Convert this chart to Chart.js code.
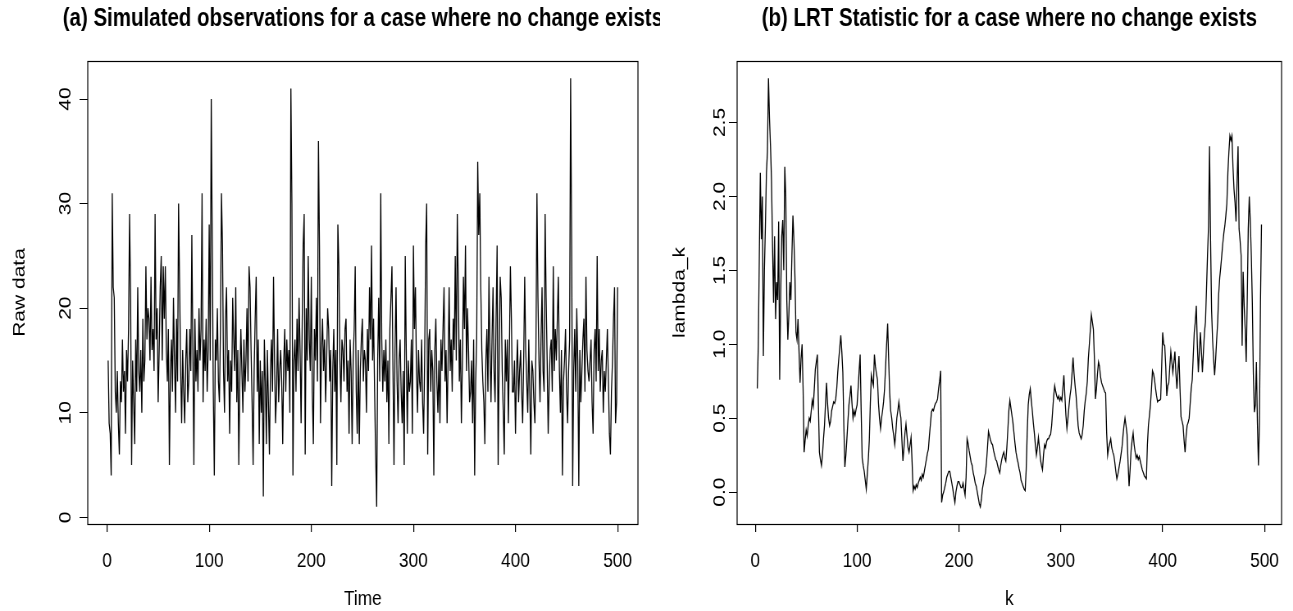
<!DOCTYPE html>
<html>
<head>
<meta charset="utf-8">
<script src="https://cdn.jsdelivr.net/npm/chart.js@4.4.0/dist/chart.umd.min.js"></script>
<style>
  body { margin: 0; background: #fff; width: 1293px; height: 611px; position: relative; overflow: hidden; }
  /* the source figure is squeezed horizontally, so the canvases are too */
  canvas { position: absolute; top: 0; transform-origin: 0 0; transform: scale(0.82, 1); }
  #left { left: 0; }
  #right { left: 660px; }
</style>
</head>
<body>
<canvas id="left" width="805" height="611"></canvas>
<canvas id="right" width="772" height="611"></canvas>
<script>
// (a) raw observations, t = 1..500
const rawData = [
  15, 9, 8, 4, 31, 22, 21, 12, 10, 14,
  9, 6, 13, 11, 17, 12, 14, 8, 16, 13,
  18, 29, 21, 5, 15, 11, 7, 17, 12, 22,
  14, 12, 16, 10, 19, 13, 15, 24, 17, 20,
  19, 15, 23, 16, 18, 14, 29, 17, 20, 11,
  16, 22, 25, 15, 24, 19, 24, 16, 13, 18,
  5, 14, 17, 12, 21, 15, 10, 19, 13, 30,
  22, 14, 9, 16, 12, 9, 15, 18, 11, 13,
  18, 14, 27, 16, 5, 19, 13, 16, 12, 20,
  15, 18, 31, 11, 17, 14, 19, 12, 16, 28,
  15, 40, 26, 12, 4, 17, 15, 20, 13, 11,
  18, 31, 26, 14, 10, 19, 22, 13, 16, 8,
  15, 12, 21, 17, 14, 22, 11, 16, 5, 13,
  18, 14, 10, 17, 12, 15, 20, 13, 24, 22,
  16, 11, 5, 14, 19, 23, 12, 17, 7, 15,
  10, 14, 2, 17, 13, 7, 16, 11, 6, 14,
  17, 12, 23, 15, 9, 12, 18, 11, 14, 16,
  13, 7, 15, 18, 12, 17, 14, 16, 10, 41,
  30, 4, 15, 17, 12, 19, 14, 21, 16, 9,
  18, 26, 29, 6, 20, 15, 25, 17, 14, 23,
  12, 7, 18, 15, 21, 13, 36, 26, 9, 16,
  19, 14, 17, 11, 15, 20, 18, 13, 16, 3,
  14, 18, 12, 16, 5, 28, 24, 15, 11, 17,
  16, 13, 18, 19, 12, 15, 8, 17, 14, 7,
  15, 18, 24, 12, 8, 16, 7, 14, 17, 19,
  13, 16, 15, 10, 18, 14, 22, 17, 26, 15,
  19, 12, 6, 1, 15, 21, 13, 31, 17, 12,
  16, 13, 17, 11, 15, 7, 18, 21, 24, 14,
  5, 16, 22, 13, 9, 15, 17, 12, 9, 14,
  5, 25, 16, 8, 15, 12, 13, 17, 8, 26,
  18, 22, 14, 10, 16, 13, 12, 17, 11, 8,
  15, 26, 30, 6, 17, 18, 12, 16, 14, 4,
  16, 19, 13, 10, 15, 9, 17, 14, 18, 22,
  13, 16, 9, 15, 22, 14, 17, 12, 19, 16,
  25, 15, 29, 22, 13, 17, 9, 15, 23, 18,
  26, 14, 20, 16, 11, 12, 15, 9, 17, 4,
  13, 17, 34, 27, 31, 22, 16, 13, 11, 7,
  15, 18, 12, 23, 16, 11, 17, 22, 14, 11,
  19, 26, 5, 15, 23, 21, 14, 10, 6, 17,
  13, 17, 9, 16, 24, 19, 12, 12, 15, 8,
  14, 17, 11, 14, 16, 12, 9, 15, 23, 16,
  13, 10, 17, 12, 6, 15, 14, 11, 9, 16,
  31, 21, 15, 11, 17, 22, 14, 12, 29, 21,
  15, 8, 13, 16, 17, 12, 24, 14, 18, 15,
  19, 23, 14, 10, 16, 4, 13, 15, 18, 12,
  9, 14, 17, 42, 26, 3, 14, 18, 12, 20,
  15, 3, 16, 11, 14, 17, 19, 12, 23, 16,
  14, 13, 15, 17, 11, 8, 16, 18, 13, 25,
  14, 18, 12, 15, 16, 10, 14, 12, 15, 18,
  13, 8, 6, 12, 15, 19, 22, 9, 11, 22
];

// (b) LRT statistic lambda_k, k = kStart ..
const kStart = 2;
const lrtStat = [
  0.70, 0.99, 1.60, 2.16, 1.71, 2.00, 0.92, 1.50, 1.80, 2.16,
  2.30, 2.80, 2.53, 2.34, 2.11, 1.66, 1.28, 1.73, 1.17, 1.42,
  1.30, 1.83, 0.76, 1.34, 1.73, 1.84, 1.50, 2.20, 2.00, 1.30,
  1.03, 1.20, 1.42, 1.30, 1.60, 1.87, 1.70, 1.45, 1.08, 1.03,
  1.17, 0.95, 0.74, 0.90, 1.00, 0.70, 0.27, 0.35, 0.42, 0.38,
  0.45, 0.50, 0.48, 0.55, 0.62, 0.58, 0.70, 0.83, 0.88, 0.93,
  0.60, 0.27, 0.22, 0.18, 0.25, 0.36, 0.45, 0.60, 0.74, 0.60,
  0.50, 0.45, 0.48, 0.55, 0.58, 0.61, 0.60, 0.63, 0.70, 0.81,
  0.90, 0.98, 1.06, 0.95, 0.81, 0.45, 0.17, 0.25, 0.36, 0.48,
  0.59, 0.65, 0.72, 0.60, 0.50, 0.55, 0.52, 0.56, 0.59, 0.70,
  0.82, 0.93, 0.55, 0.23, 0.18, 0.14, 0.08, 0.02, 0.12, 0.22,
  0.35, 0.60, 0.79, 0.75, 0.72, 0.93, 0.85, 0.80, 0.76, 0.60,
  0.50, 0.43, 0.50, 0.55, 0.61, 0.70, 0.85, 1.00, 1.14, 0.90,
  0.67, 0.55, 0.50, 0.43, 0.38, 0.32, 0.40, 0.50, 0.55, 0.61,
  0.55, 0.50, 0.35, 0.21, 0.30, 0.40, 0.46, 0.38, 0.30, 0.27,
  0.32, 0.37, 0.20, 0.01, 0.04, 0.02, 0.05, 0.03, 0.06, 0.08,
  0.10, 0.08, 0.12, 0.10, 0.14, 0.18, 0.22, 0.26, 0.29, 0.38,
  0.46, 0.54, 0.56, 0.55, 0.58, 0.60, 0.61, 0.63, 0.70, 0.75,
  0.82, -0.07, -0.02, 0.00, 0.03, 0.06, 0.10, 0.12, 0.14, 0.14,
  0.10, 0.06, 0.02, -0.03, -0.07, 0.00, 0.04, 0.07, 0.07, 0.05,
  0.03, 0.03, 0.06, 0.02, -0.02, 0.10, 0.36, 0.33, 0.28, 0.24,
  0.20, 0.18, 0.13, 0.10, 0.06, 0.04, 0.00, -0.04, -0.08, -0.10,
  -0.05, 0.02, 0.06, 0.10, 0.13, 0.20, 0.30, 0.41, 0.38, 0.35,
  0.33, 0.32, 0.28, 0.25, 0.22, 0.21, 0.18, 0.15, 0.13, 0.18,
  0.22, 0.25, 0.27, 0.23, 0.21, 0.30, 0.42, 0.55, 0.62, 0.57,
  0.52, 0.47, 0.40, 0.33, 0.27, 0.23, 0.20, 0.16, 0.13, 0.08,
  0.06, 0.04, 0.02, 0.01, 0.15, 0.40, 0.59, 0.66, 0.70, 0.62,
  0.55, 0.47, 0.40, 0.32, 0.25, 0.30, 0.37, 0.30, 0.22, 0.18,
  0.15, 0.25, 0.32, 0.30, 0.34, 0.36, 0.36, 0.38, 0.39, 0.45,
  0.55, 0.65, 0.72, 0.68, 0.65, 0.63, 0.65, 0.62, 0.64, 0.62,
  0.70, 0.79, 0.65, 0.52, 0.43, 0.50, 0.58, 0.65, 0.70, 0.80,
  0.91, 0.80, 0.72, 0.65, 0.55, 0.45, 0.40, 0.38, 0.36, 0.39,
  0.45, 0.55, 0.62, 0.67, 0.75, 0.90, 1.00, 1.10, 1.20, 1.15,
  1.10, 0.90, 0.63, 0.70, 0.80, 0.88, 0.85, 0.78, 0.74, 0.72,
  0.70, 0.68, 0.67, 0.40, 0.25, 0.30, 0.33, 0.36, 0.30, 0.27,
  0.25, 0.20, 0.14, 0.09, 0.12, 0.16, 0.20, 0.25, 0.30, 0.38,
  0.45, 0.50, 0.45, 0.39, 0.20, 0.04, 0.15, 0.28, 0.35, 0.40,
  0.32, 0.27, 0.23, 0.25, 0.22, 0.24, 0.21, 0.18, 0.15, 0.13,
  0.11, 0.10, 0.09, 0.32, 0.45, 0.52, 0.59, 0.70, 0.82, 0.80,
  0.76, 0.70, 0.65, 0.61, 0.62, 0.62, 0.63, 0.85, 1.08, 1.00,
  0.99, 0.85, 0.65, 0.72, 0.74, 0.85, 0.95, 0.88, 0.81, 0.88,
  0.95, 0.80, 0.70, 0.82, 0.92, 0.70, 0.51, 0.48, 0.45, 0.35,
  0.27, 0.38, 0.45, 0.47, 0.50, 0.60, 0.70, 0.76, 0.92, 1.08,
  1.15, 1.26, 1.00, 0.81, 0.95, 1.08, 0.95, 0.81, 0.95, 1.08,
  1.15, 1.37, 1.60, 1.80, 2.34, 1.70, 1.23, 1.03, 0.90, 0.79,
  0.90, 1.03, 1.15, 1.34, 1.45, 1.52, 1.60, 1.68, 1.75, 1.80,
  1.87, 1.95, 2.16, 2.30, 2.41, 2.38, 2.41, 2.20, 2.05, 1.96,
  1.83, 2.10, 2.34, 1.78, 1.70, 1.60, 0.99, 1.49, 1.26, 1.10,
  0.88, 1.30, 1.78, 2.00, 1.83, 1.60, 1.28, 0.80, 0.54, 0.59,
  0.88, 0.47, 0.18, 0.47, 1.28, 1.81
];

const xTicks = [0, 100, 200, 300, 400, 500];
const rawTicks = [0, 10, 20, 30, 40];
const lambdaTicks = [0, 0.5, 1, 1.5, 2, 2.5];

const FONT = "'Liberation Sans', Arial, sans-serif";

// R pads the data range by 4% on each side
function rRange(vals) {
  const lo = Math.min(...vals), hi = Math.max(...vals);
  const d = (hi - lo) * 0.04;
  return [lo - d, hi + d];
}

// frame around the plot region + main title
const boxPlugin = {
  id: "box",
  afterDraw(chart, args, opts) {
    const { ctx, chartArea: a } = chart;
    ctx.save();
    ctx.strokeStyle = "#000";
    ctx.lineWidth = 1.2;
    ctx.strokeRect(Math.round(a.left), Math.round(a.top) + 0.5,
      Math.round(a.right - a.left), Math.round(a.bottom - a.top));
    ctx.fillStyle = "#000";
    ctx.font = "bold 25px " + FONT;
    ctx.textAlign = "center";
    ctx.textBaseline = "middle";
    ctx.fillText(opts.text, (a.left + a.right) / 2, 19);
    ctx.restore();
  }
};

function makeChart(id, xs, ys, yTicks, fmt, xTitle, yTitle, title, g) {
  const [xmin, xmax] = rRange(xs);
  const [ymin, ymax] = rRange(ys);
  return new Chart(document.getElementById(id), {
    type: "line",
    data: {
      datasets: [{
        data: xs.map((x, i) => ({ x: x, y: ys[i] })),
        borderColor: "#000",
        borderWidth: 1.3,
        pointRadius: 0,
        tension: 0,
        fill: false
      }]
    },
    options: {
      responsive: false,
      animation: false,
      events: [],
      layout: { padding: { left: 0, top: g.top, right: g.right, bottom: 0 } },
      plugins: {
        legend: { display: false },
        tooltip: { enabled: false },
        box: { text: title }
      },
      scales: {
        x: {
          type: "linear",
          min: xmin,
          max: xmax,
          afterBuildTicks: s => { s.ticks = xTicks.map(v => ({ value: v })); },
          afterFit: s => { s.height = g.xh; },
          grid: { drawOnChartArea: false, tickLength: 8, color: "#000", lineWidth: 1.2 },
          border: { display: false },
          ticks: { color: "#000", font: { family: FONT, size: 21 }, padding: 17, maxRotation: 0, autoSkip: false },
          title: { display: true, text: xTitle, color: "#000", font: { family: FONT, size: 21, lineHeight: 1 }, padding: { top: 0, bottom: 1 } }
        },
        y: {
          type: "linear",
          min: ymin,
          max: ymax,
          afterBuildTicks: s => { s.ticks = yTicks.map(v => ({ value: v })); },
          afterFit: s => { s.width = g.yw; },
          grid: { drawOnChartArea: false, tickLength: 10, color: "#000" },
          border: { display: false },
          ticks: {
            color: "#000", font: { family: FONT, size: 21 }, padding: g.ypad,
            minRotation: 90, maxRotation: 90, crossAlign: "center", autoSkip: false,
            callback: v => fmt(v)
          },
          title: { display: true, text: yTitle, color: "#000", font: { family: FONT, size: 21, lineHeight: 1 }, padding: { top: 14, bottom: 0 } }
        }
      }
    },
    plugins: [boxPlugin]
  });
}

const timeIdx = rawData.map((v, i) => i + 1);
const kIdx = lrtStat.map((v, i) => i + kStart);

makeChart("left", timeIdx, rawData, rawTicks, v => String(v),
  "Time", "Raw data", "(a) Simulated observations for a case where no change exists",
  { top: 61, right: 27, xh: 87, yw: 107, ypad: 5 });

makeChart("right", kIdx, lrtStat, lambdaTicks, v => v.toFixed(1),
  "k", "lambda_k", "(b) LRT Statistic for a case where no change exists",
  { top: 61, right: 8, xh: 87, yw: 94, ypad: -4 });
</script>
</body>
</html>
